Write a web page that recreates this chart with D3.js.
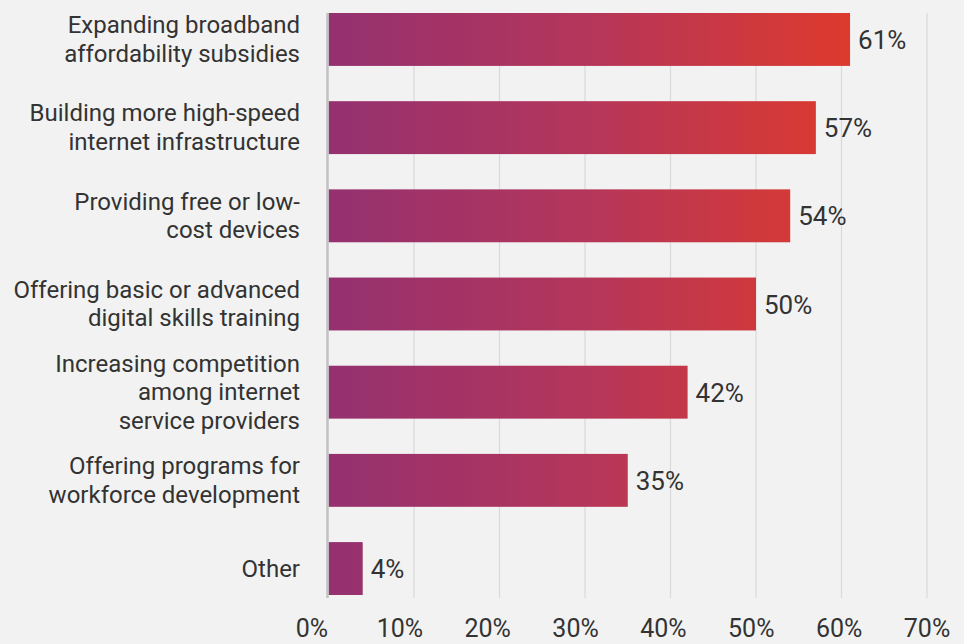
<!DOCTYPE html>
<html>
<head>
<meta charset="utf-8">
<script src="https://cdn.jsdelivr.net/npm/d3@7/dist/d3.min.js"></script>
<style>
  html, body { margin: 0; padding: 0; background: #f2f2f2; }
  svg { display: block; font-family: Roboto, "Noto Sans", sans-serif; font-weight: 400; }
</style>
</head>
<body>
<svg id="chart" width="964" height="644"></svg>
<script>
// Survey answers, one bar per policy option (wrapped label lines)
const categories = [
  ["Expanding broadband", "affordability subsidies"],
  ["Building more high-speed", "internet infrastructure"],
  ["Providing free or low-", "cost devices"],
  ["Offering basic or advanced", "digital skills training"],
  ["Increasing competition", "among internet", "service providers"],
  ["Offering programs for", "workforce development"],
  ["Other"]
];
const values = [61, 57, 54, 50, 42, 35, 4];
const tickValues = [0, 10, 20, 30, 40, 50, 60, 70];
const tickLabels = ["0%", "10%", "20%", "30%", "40%", "50%", "60%", "70%"];

(function () {
  const svg = d3.select("#chart");
  const W = 964, H = 644;
  const plotLeft = 328.5, plotRight = 927, plotTop = 13, plotBottom = 595;

  const x = d3.scaleLinear().domain([0, 70]).range([plotLeft, plotRight]);
  // tick captions sit on a slightly wider track than the grid
  const xLabel = d3.scaleLinear().domain([0, 70]).range([312, 927]);
  const y = d3.scaleBand()
    .domain(d3.range(categories.length))
    .range([plotTop, plotBottom])
    .paddingInner(0.4)
    .paddingOuter(0);

  svg.append("rect").attr("width", W).attr("height", H).attr("fill", "#f2f2f2");

  // horizontal gradient running across the value axis
  const grad = svg.append("defs").append("linearGradient")
    .attr("id", "barGrad")
    .attr("gradientUnits", "userSpaceOnUse")
    .attr("x1", x(0)).attr("x2", x(61)).attr("y1", 0).attr("y2", 0);
  grad.append("stop").attr("offset", "0%").attr("stop-color", "#943170");
  grad.append("stop").attr("offset", "50%").attr("stop-color", "#b5365a");
  grad.append("stop").attr("offset", "100%").attr("stop-color", "#dd3a2d");

  // vertical grid lines
  svg.append("g").selectAll("line")
    .data(tickValues.filter(d => d > 0))
    .join("line")
    .attr("x1", d => x(d)).attr("x2", d => x(d))
    .attr("y1", plotTop).attr("y2", plotBottom + 3)
    .attr("stroke", "#d9d9d9").attr("stroke-width", 1.2);

  // bars
  svg.append("g").selectAll("rect")
    .data(values)
    .join("rect")
    .attr("x", x(0))
    .attr("y", (d, i) => y(i))
    .attr("width", d => x(d) - x(0))
    .attr("height", y.bandwidth())
    .attr("fill", "url(#barGrad)");

  // zero baseline
  svg.append("line")
    .attr("x1", x(0) - 1).attr("x2", x(0) - 1)
    .attr("y1", plotTop).attr("y2", plotBottom + 3)
    .attr("stroke", "#c2c2c2").attr("stroke-width", 2.5);

  // value labels
  svg.append("g").selectAll("text")
    .data(values)
    .join("text")
    .attr("x", d => x(d) + 8)
    .attr("y", (d, i) => y(i) + y.bandwidth() / 2 + 9.5)
    .attr("font-size", 26)
    .attr("fill", "#333")
    .text(d => d + "%");

  // category labels, right-aligned, multi-line
  const lineH = 28.5;
  const cat = svg.append("g").selectAll("text")
    .data(categories)
    .join("text")
    .attr("text-anchor", "end")
    .attr("font-size", 24)
    .attr("fill", "#333");
  cat.each(function (lines, i) {
    const cy = y(i) + y.bandwidth() / 2 + 8;
    const n = lines.length;
    d3.select(this).selectAll("tspan")
      .data(lines)
      .join("tspan")
      .attr("x", 300)
      .attr("y", (l, k) => cy + (k - (n - 1) / 2) * lineH)
      .text(l => l);
  });

  // axis tick captions
  svg.append("g").selectAll("text")
    .data(tickValues)
    .join("text")
    .attr("x", d => xLabel(d))
    .attr("y", 637)
    .attr("text-anchor", "middle")
    .attr("font-size", 25)
    .attr("fill", "#333")
    .text((d, i) => tickLabels[i]);
})();
</script>
</body>
</html>
